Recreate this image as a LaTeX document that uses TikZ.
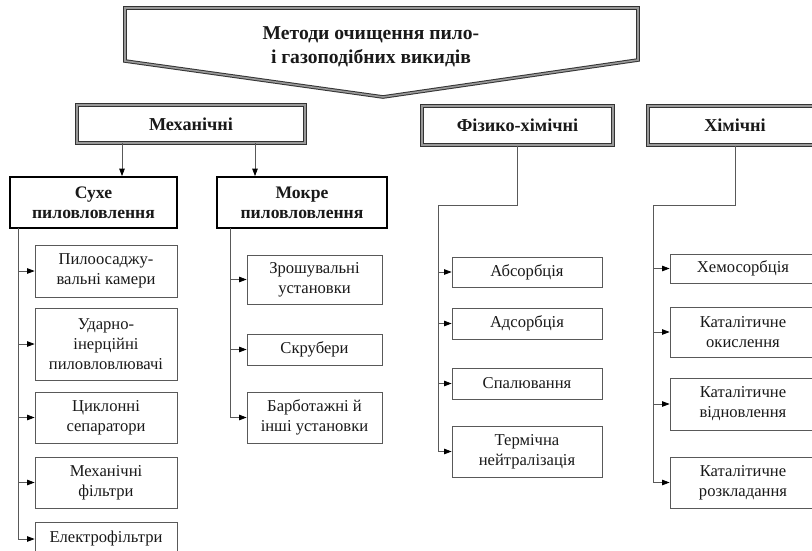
\documentclass[tikz,border=0pt]{standalone}
\usepackage{fontspec}
\setmainfont{Liberation Serif}
\usetikzlibrary{arrows.meta}
\begin{document}
\begin{tikzpicture}[x=1pt,y=-1pt,
  leaf/.style={draw=black!65, line width=0.8pt, fill=white, inner sep=0pt, align=center,
    text=black!90, font=\fontsize{16.6}{20}\selectfont},
  grp/.style={draw=black, line width=1.8pt, fill=white, inner sep=0pt, align=center,
    text=black!90, font=\bfseries\fontsize{17.6}{20}\selectfont},
  cat/.style={draw=black!80, line width=1pt, double=black!40, double distance=1.6pt, fill=white,
    inner sep=0pt, align=center, text=black!90, font=\bfseries\fontsize{18.2}{20}\selectfont},
  conn/.style={draw=black!65, line width=0.8pt},
  arr/.style={conn, -{Triangle[length=7.5pt,width=5.5pt,color=black]}}
]
\useasboundingbox (0,0) rectangle (812,551);
% title banner
\draw[draw=black!80, line width=1pt, double=black!40, double distance=1.6pt, fill=white]
  (125,8) -- (638,8) -- (638,60) -- (383,97) -- (125,61) -- cycle;
\node[align=center, text=black!90, font=\bfseries\fontsize{19.6}{24}\selectfont] (title) at (371,47)
  {Методи очищення пило-\\і газоподібних викидів};

% categories
\node[cat, minimum width=228, minimum height=38] (mech) at (191,124) {Механічні};
\node[cat, minimum width=191, minimum height=39] (fh) at (517.5,125.5) {Фізико-хімічні};
\node[cat, minimum width=174, minimum height=39] (chem) at (735,125.5) {Хімічні};

% groups
\node[grp, minimum width=167, minimum height=51] (dry) at (93.5,202.5) {Сухе\\пиловловлення};
\node[grp, minimum width=170, minimum height=51] (wet) at (302,202.5) {Мокре\\пиловловлення};

\coordinate (m1) at (122,143);
\coordinate (m2) at (255,143);
\draw[arr] (m1) -- (m1 |- dry.north);
\draw[arr] (m2) -- (m2 |- wet.north);

% dry leaves
\node[leaf, minimum width=142, minimum height=52] (d1) at (106,271) {Пилоосаджу-\\вальні камери};
\node[leaf, minimum width=142, minimum height=72] (d2) at (106,344) {Ударно-\\інерційні\\пиловловлювачі};
\node[leaf, minimum width=142, minimum height=51] (d3) at (106,417.5) {Циклонні\\сепаратори};
\node[leaf, minimum width=142, minimum height=51] (d4) at (106,482.5) {Механічні\\фільтри};
\node[leaf, minimum width=142, minimum height=34] (d5) at (106,539) {Електрофільтри};
\coordinate (dt) at (18,228);
\foreach \b in {d1,d2,d3,d4,d5} \draw[arr] (dt) |- (\b.west);

% wet leaves
\node[leaf, minimum width=135, minimum height=49] (w1) at (314.5,279.5) {Зрошувальні\\установки};
\node[leaf, minimum width=135, minimum height=31] (w2) at (314.5,349.5) {Скрубери};
\node[leaf, minimum width=135, minimum height=51] (w3) at (314.5,417.5) {Барботажні й\\інші установки};
\coordinate (wt) at (230,228);
\foreach \b in {w1,w2,w3} \draw[arr] (wt) |- (\b.west);

% physico-chemical leaves
\node[leaf, minimum width=150, minimum height=30] (f1) at (527,272) {Абсорбція};
\node[leaf, minimum width=150, minimum height=31] (f2) at (527,323.5) {Адсорбція};
\node[leaf, minimum width=150, minimum height=31] (f3) at (527,383.5) {Спалювання};
\node[leaf, minimum width=150, minimum height=51] (f4) at (527,451.5) {Термічна\\нейтралізація};
\coordinate (fk) at (438,205);
\draw[conn] (fh.south) |- (fk);
\foreach \b in {f1,f2,f3,f4} \draw[arr] (fk) |- (\b.west);

% chemical leaves
\node[leaf, minimum width=146, minimum height=29] (c1) at (743,268.5) {Хемосорбція};
\node[leaf, minimum width=146, minimum height=50] (c2) at (743,332) {Каталітичне\\окислення};
\node[leaf, minimum width=146, minimum height=52] (c3) at (743,404) {Каталітичне\\відновлення};
\node[leaf, minimum width=146, minimum height=51] (c4) at (743,482.5) {Каталітичне\\розкладання};
\coordinate (ck) at (653,205);
\draw[conn] (chem.south) |- (ck);
\foreach \b in {c1,c2,c3,c4} \draw[arr] (ck) |- (\b.west);
\end{tikzpicture}
\end{document}
